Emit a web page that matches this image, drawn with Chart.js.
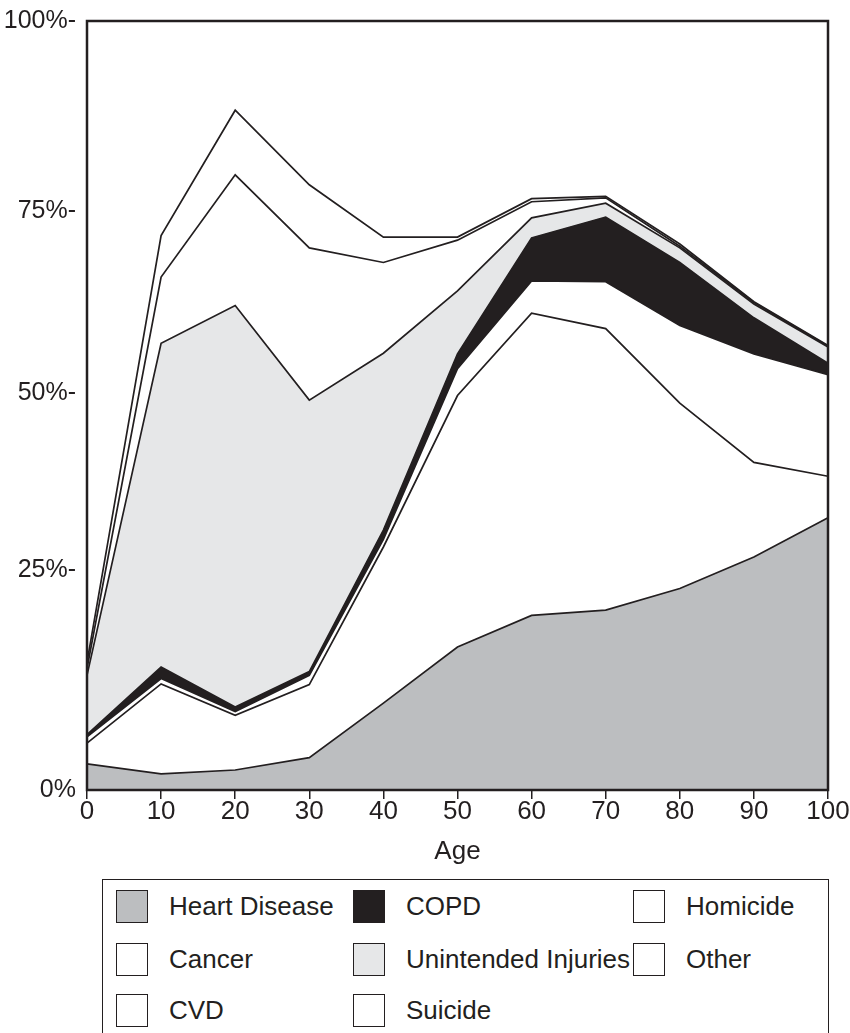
<!DOCTYPE html>
<html>
<head>
<meta charset="utf-8">
<script src="https://cdn.jsdelivr.net/npm/chart.js@4.4.1/dist/chart.umd.min.js"></script>
<style>
  html, body { margin: 0; padding: 0; background: #fff; }
  body { width: 850px; height: 1033px; overflow: hidden; position: relative; font-family: "Liberation Sans", Arial, sans-serif; color: #231f20; }
  #wrap { position: absolute; left: 0; top: 0; width: 850px; height: 870px; }
  #legend { position: absolute; left: 102px; top: 879px; width: 727px; height: 170px; border: 1.5px solid #231f20; box-sizing: border-box; }
  .item { position: absolute; height: 34px; display: flex; align-items: center; font-size: 26px; white-space: nowrap; }
  .swatch { width: 32px; height: 33px; box-sizing: border-box; border: 1.5px solid #231f20; margin-right: 21px; flex: none; }
</style>
</head>
<body>
<div id="wrap"><canvas id="chart"></canvas></div>
<div id="legend"></div>
<script>
// Ages on the x axis
const ages = ['0', '10', '20', '30', '40', '50', '60', '70', '80', '90', '100'];

// Share of deaths per cause (stacked, bottom to top)
const heartDisease = [3.4, 2.1, 2.6, 4.2, 11.3, 18.6, 22.7, 23.4, 26.2, 30.3, 35.4];
const cancer       = [2.7, 11.7, 7.1, 9.5, 20.3, 32.7, 39.3, 36.6, 24.1, 12.3, 5.4];
const cvd          = [0.8, 0.7, 0.5, 1.2, 1.0, 3.5, 4.2, 6.1, 10.1, 14.1, 13.2];
const copd         = [0.3, 1.5, 0.6, 0.5, 1.2, 1.9, 5.6, 8.4, 8.2, 4.7, 1.5];
const injuries     = [7.7, 42.1, 52.2, 35.3, 23.0, 8.2, 2.6, 1.8, 1.9, 1.8, 2.1];
const suicide      = [0.9, 8.6, 17.0, 19.8, 11.8, 6.6, 2.1, 0.7, 0.2, 0.2, 0.1];
const homicide     = [0.8, 5.4, 8.4, 8.2, 3.3, 0.4, 0.4, 0.2, 0.3, 0.1, 0.1];
const other        = [83.4, 27.9, 11.6, 21.3, 28.1, 28.1, 23.1, 22.8, 29.0, 36.5, 42.2];

// y tick positions as printed on the original axis, and their labels
const yTickValues = [0, 28.6, 51.6, 75.3, 100];
const yTickLabels = ['0%', '25%-', '50%-', '75%-', '100%-'];

const ink = '#231f20';

const series = [
  { label: 'Heart Disease', data: heartDisease, color: '#bcbec0' },
  { label: 'Cancer', data: cancer, color: '#ffffff' },
  { label: 'CVD', data: cvd, color: '#ffffff' },
  { label: 'COPD', data: copd, color: ink },
  { label: 'Unintended Injuries', data: injuries, color: '#e6e7e8' },
  { label: 'Suicide', data: suicide, color: '#ffffff' },
  { label: 'Homicide', data: homicide, color: '#ffffff' },
  { label: 'Other', data: other, color: '#ffffff' },
];

// Box around the plot area
const framePlugin = {
  id: 'frame',
  afterDatasetsDraw(chart) {
    const { ctx, chartArea: a } = chart;
    ctx.save();
    ctx.strokeStyle = ink;
    ctx.lineWidth = 2.5;
    ctx.strokeRect(a.left, a.top, a.right - a.left, a.bottom - a.top);
    ctx.restore();
  }
};

new Chart(document.getElementById('chart'), {
  type: 'line',
  data: {
    labels: ages,
    datasets: series.map((s, i) => ({
      label: s.label,
      data: s.data,
      backgroundColor: s.color,
      borderColor: ink,
      borderWidth: s.label === 'Other' ? 0 : 1.7,
      borderJoinStyle: 'miter',
      pointRadius: 0,
      tension: 0,
      fill: i === 0 ? 'origin' : '-1',
    })),
  },
  options: {
    responsive: true,
    maintainAspectRatio: false,
    animation: false,
    layout: { padding: { top: 21, right: 22, left: 0, bottom: 0 } },
    plugins: {
      legend: { display: false },
      tooltip: { enabled: false },
    },
    scales: {
      x: {
        afterFit: (scale) => { scale.height = 80; },
        grid: { display: true, drawOnChartArea: false, drawTicks: true, tickLength: 9, color: ink, lineWidth: 1.5 },
        border: { display: false },
        ticks: { color: ink, font: { family: 'Liberation Sans', size: 26, lineHeight: 1 }, padding: 0, maxRotation: 0, autoSkip: false },
        title: { display: true, text: 'Age', color: ink, font: { family: 'Liberation Sans', size: 26, lineHeight: 1 }, padding: { top: 0, bottom: 5 } },
      },
      y: {
        stacked: true,
        min: 0,
        max: 100,
        afterFit: (scale) => { scale.width = 87; },
        afterBuildTicks: (scale) => { scale.ticks = yTickValues.map(v => ({ value: v })); },
        grid: { display: false },
        border: { display: false },
        ticks: {
          color: ink,
          font: { family: 'Liberation Sans', size: 25, lineHeight: 1 },
          padding: 3,
          callback: (value, index) => yTickLabels[index],
        },
      },
    },
  },
  plugins: [framePlugin],
});

// Legend laid out column by column, three rows each
const legend = document.getElementById('legend');
const colX = [13, 250, 530];
const rowY = [9, 62, 113];
series.forEach((s, i) => {
  const item = document.createElement('div');
  item.className = 'item';
  item.style.left = colX[Math.floor(i / 3)] + 'px';
  item.style.top = rowY[i % 3] + 'px';
  const sw = document.createElement('span');
  sw.className = 'swatch';
  sw.style.background = s.color;
  const txt = document.createElement('span');
  txt.textContent = s.label;
  item.appendChild(sw);
  item.appendChild(txt);
  legend.appendChild(item);
});
</script>
</body>
</html>
